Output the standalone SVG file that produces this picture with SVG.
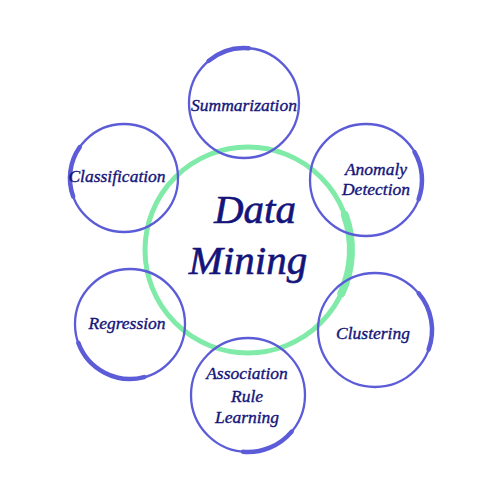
<svg xmlns="http://www.w3.org/2000/svg" width="500" height="500" viewBox="0 0 500 500">
<style>
.ring{fill:none;stroke:#5c5cd8;stroke-width:2.3}
.brush{fill:none;stroke:#5c5cd8;stroke-width:4.5;stroke-linecap:round}
.green{fill:none;stroke:#80eaa8;stroke-width:5}
.gbrush{fill:none;stroke:#80eaa8;stroke-width:8;stroke-linecap:round}
text{font-family:"Liberation Serif","Times New Roman",serif;font-style:italic;fill:#14147a;stroke:#14147a;stroke-width:0.35;text-anchor:middle}
.lbl{font-size:17.5px}
.big{font-size:41px;stroke-width:0.6}
</style>
<rect width="500" height="500" fill="#ffffff"/>
<g id="center">
<circle class="green" cx="248" cy="250" r="103"/>
<path class="gbrush" d="M344.8,214.8 A103,103 0 0 1 341.3,293.5"/>
<text class="big" x="255" y="223">Data</text>
<text class="big" x="248" y="274">Mining</text>
</g>
<g id="summarization">
<circle class="ring" cx="244" cy="103" r="55"/>
<path class="brush" d="M208.6,60.9 A55,55 0 0 1 248.8,48.2"/>
<text class="lbl" x="244" y="111">Summarization</text>
</g>
<g id="anomaly">
<circle class="ring" cx="366" cy="180" r="56"/>
<path class="brush" d="M414.5,152 A56,56 0 0 1 418.6,199.2"/>
<text class="lbl" x="376" y="175">Anomaly</text>
<text class="lbl" x="376" y="195">Detection</text>
</g>
<g id="classification">
<circle class="ring" cx="124" cy="178" r="54"/>
<path class="brush" d="M73.2,196.5 A54,54 0 0 1 79.8,147"/>
<text class="lbl" x="117" y="182">Classification</text>
</g>
<g id="regression">
<circle class="ring" cx="130" cy="324" r="55"/>
<path class="brush" d="M144.2,377.1 A55,55 0 0 1 78.3,342.8"/>
<text class="lbl" x="127" y="329">Regression</text>
</g>
<g id="clustering">
<circle class="ring" cx="375" cy="330" r="57"/>
<path class="brush" d="M418.7,293.4 A57,57 0 0 1 428.6,349.5"/>
<text class="lbl" x="373" y="339">Clustering</text>
</g>
<g id="association">
<circle class="ring" cx="248" cy="395" r="57"/>
<path class="brush" d="M291.7,431.6 A57,57 0 0 1 243,451.8"/>
<text class="lbl" x="247" y="379">Association</text>
<text class="lbl" x="247" y="402">Rule</text>
<text class="lbl" x="247" y="423">Learning</text>
</g>
<g id="connectors"></g>
</svg>
